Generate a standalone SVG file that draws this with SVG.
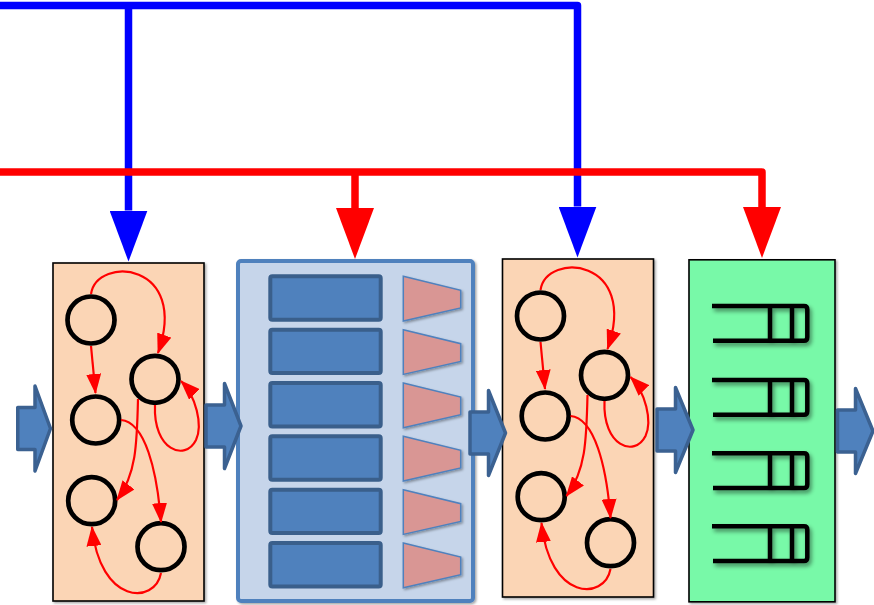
<svg xmlns="http://www.w3.org/2000/svg" xmlns:xlink="http://www.w3.org/1999/xlink" width="874" height="605" viewBox="0 0 874 605">
<style>
.bus{fill:none;stroke-width:7.5;stroke-linejoin:round}
.blue{stroke:#0000FF}
.red{stroke:#FF0000}
.peach{fill:#FBD5B5;stroke:#000;stroke-width:1.6}
.st{fill:none;stroke:#000;stroke-width:4.7}
.tr{fill:none;stroke:#FF0000;stroke-width:2.2}
.blk{fill:#4F81BD;stroke:#3B6191;stroke-width:3.5;stroke-linejoin:round}
.cell{fill:#4F81BD;stroke:#3A5F8B;stroke-width:4}
.trap{fill:#D99694;stroke:#4F81BD;stroke-width:1.5}
.q{fill:none;stroke:#000;stroke-width:4.5;stroke-linejoin:round}
</style>
<defs>
<filter id="sh" x="-10%" y="-10%" width="130%" height="130%"><feDropShadow dx="1.5" dy="1.5" stdDeviation="1.2" flood-color="#000" flood-opacity="0.35"/></filter>
<filter id="sh2" x="-20%" y="-40%" width="140%" height="200%"><feDropShadow dx="2" dy="3" stdDeviation="2" flood-color="#000" flood-opacity="0.45"/></filter>
<marker id="bh" markerUnits="userSpaceOnUse" viewBox="0 0 51 38" markerWidth="51" markerHeight="38" refX="0" refY="19" orient="auto"><path d="M0,0 L51,19 L0,38 Z" fill="#0000FF"/></marker>
<marker id="rh" markerUnits="userSpaceOnUse" viewBox="0 0 51 38" markerWidth="51" markerHeight="38" refX="0" refY="19" orient="auto"><path d="M0,0 L51,19 L0,38 Z" fill="#FF0000"/></marker>
<marker id="sa" markerUnits="userSpaceOnUse" viewBox="0 0 20 15" markerWidth="20" markerHeight="15" refX="19" refY="7.5" orient="auto"><path d="M0,0 L20,7.5 L0,15 Z" fill="#FF0000"/></marker>
<g id="sm">
<rect class="peach" x="53" y="263" width="151" height="338" filter="url(#sh)"/>
<circle class="st" cx="91" cy="320" r="23.5"/>
<circle class="st" cx="155" cy="379.3" r="23.5"/>
<circle class="st" cx="95.7" cy="420" r="23.5"/>
<circle class="st" cx="91.7" cy="500.7" r="23.5"/>
<circle class="st" cx="161" cy="546.7" r="23.5"/>
<path class="tr" marker-end="url(#sa)" d="M91,294 C97,255 190,262 158,353"/>
<path class="tr" marker-end="url(#sa)" d="M91,346 L95.5,393"/>
<path class="tr" marker-end="url(#sa)" d="M155,405 C153,450 185,462 196,440 C203,425 196,396 181,381"/>
<path class="tr" marker-end="url(#sa)" d="M138,399 C137,445 136,475 117,500"/>
<path class="tr" marker-end="url(#sa)" d="M121,420 C145,422 157,470 161,522"/>
<path class="tr" marker-end="url(#sa)" d="M161,573 C155,605 100,605 92,527"/>
</g>
<g id="cellrow">
<rect class="cell" x="270.3" y="0" width="110.4" height="43.4" rx="2"/>
<path class="trap" d="M403.3,0 L460.7,14 L460.7,31.7 L403.3,44.7 Z" filter="url(#sh)"/>
</g>
<path id="qsym" class="q" d="M712,0 H804 Q807.3,0 807.3,3.5 V31.2 Q807.3,34.7 804,34.7 H713 M770,0 V34.7 M792,0 V34.7"/>
</defs>

<g id="connectors">
<path class="bus blue" d="M0,5.5 H577.5 V206.5" marker-end="url(#bh)"/>
<path class="bus blue" d="M128.5,5.5 V210.5" marker-end="url(#bh)"/>
<path class="bus red" d="M0,172 H762 V207" marker-end="url(#rh)"/>
<path class="bus red" d="M355,172 V208" marker-end="url(#rh)"/>
</g>

<g id="node-fsm1">
<use xlink:href="#sm"/>
</g>

<g id="node-memory">
<rect x="238" y="261" width="235" height="340" rx="3" fill="#C6D5EA" stroke="#4F81BD" stroke-width="4" filter="url(#sh)"/>
<use xlink:href="#cellrow" transform="translate(0,276.3)"/>
<use xlink:href="#cellrow" transform="translate(0,329.7)"/>
<use xlink:href="#cellrow" transform="translate(0,383)"/>
<use xlink:href="#cellrow" transform="translate(0,436.3)"/>
<use xlink:href="#cellrow" transform="translate(0,489.7)"/>
<use xlink:href="#cellrow" transform="translate(0,543)"/>
</g>

<g id="node-fsm2">
<use xlink:href="#sm" transform="translate(449.5,-4)"/>
</g>

<g id="node-queues">
<rect x="689" y="259.8" width="146" height="342" fill="#78F9A8" stroke="#000" stroke-width="1.6" filter="url(#sh)"/>
<g filter="url(#sh2)">
<use xlink:href="#qsym" transform="translate(0,306)"/>
<use xlink:href="#qsym" transform="translate(0,380)"/>
<use xlink:href="#qsym" transform="translate(0,453.3)"/>
<use xlink:href="#qsym" transform="translate(0,526.3)"/>
</g>
</g>

<g id="flow-arrows">
<path class="blk" d="M17.75,407.5 H35 V386 L50.5,428.5 L35,471 V449.5 H17.75 Z"/>
<path class="blk" d="M206,405 H224.5 V383.5 L241,426 L224.5,468.5 V447 H206 Z"/>
<path class="blk" d="M470,412 H488.5 V390.5 L505.5,433 L488.5,475.5 V454 H470 Z"/>
<path class="blk" d="M657,409 H675.5 V387.5 L693,430 L675.5,472.5 V451 H657 Z"/>
<path class="blk" d="M837.5,410 H855.5 V388.5 L873,431 L855.5,473.5 V452 H837.5 Z"/>
</g>
</svg>
